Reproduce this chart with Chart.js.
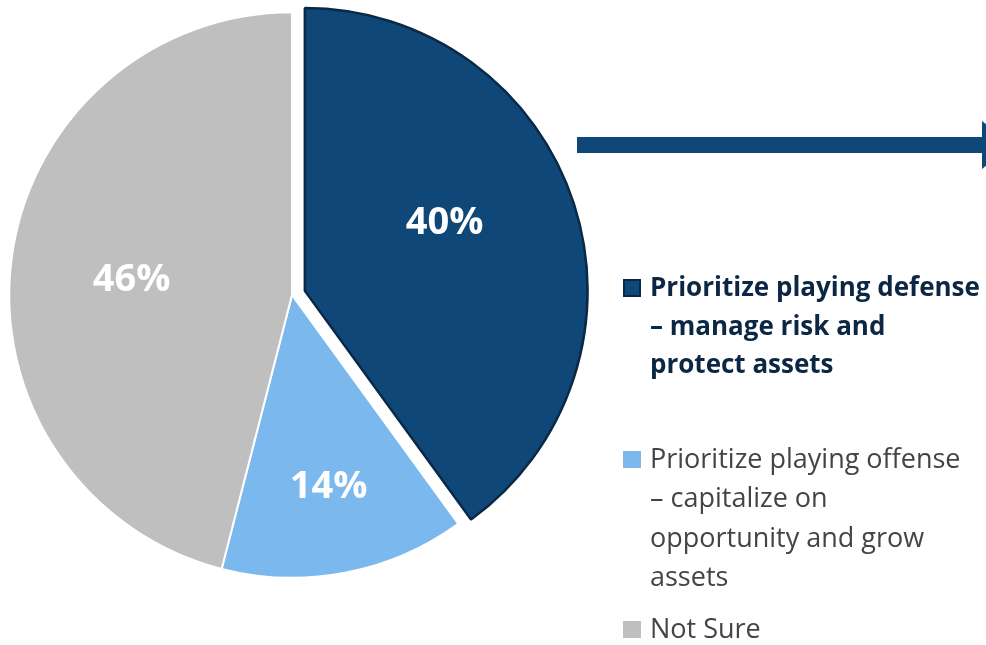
<!DOCTYPE html>
<html>
<head>
<meta charset="utf-8">
<script src="https://cdn.jsdelivr.net/npm/chart.js@4/dist/chart.umd.min.js"></script>
<style>
  html, body { margin: 0; padding: 0; background: #fff; }
  #wrap { width: 986px; height: 645px; }
</style>
</head>
<body>
<div id="wrap"><canvas id="myChart" width="986" height="645"></canvas></div>
<script>
  // survey answers, clockwise from 12 o'clock
  var labels = [
    ["Prioritize playing defense", "\u2013 manage risk and", "protect assets"],
    ["Prioritize playing offense", "\u2013 capitalize on", "opportunity and grow", "assets"],
    ["Not Sure"]
  ];
  var values = [40, 14, 46];
  var colors = ["#0f4878", "#7ab8ee", "#bfbfbf"];
  var edgeColors = ["#0a2946", "#ffffff", "#ffffff"];

  // how far each slice is pulled out of the pie, px
  var explode = [13.5, 0, 0];

  // where the % text sits inside each slice (fraction of radius, angle nudge in degrees)
  var labelSpots = [[0.55, -8], [0.69, 0], [0.57, -1.5]];

  // Chart.js' own offset option also grows the arc radius, so slide the slice
  // out by hand instead and leave its size alone
  var pullOut = {
    id: "pullOut",
    afterUpdate(chart) {
      chart.getDatasetMeta(0).data.forEach((arc, i) => {
        if (!explode[i] || arc._pulled) return;
        const baseDraw = arc.draw;
        arc.draw = function (ctx) {
          const mid = (this.startAngle + this.endAngle) / 2;
          ctx.save();
          ctx.translate(Math.cos(mid) * explode[i], Math.sin(mid) * explode[i]);
          baseDraw.call(this, ctx);
          ctx.restore();
        };
        arc._pulled = true;
      });
    }
  };

  var sliceText = {
    id: "sliceText",
    afterDatasetsDraw(chart) {
      const ctx = chart.ctx;
      const arcs = chart.getDatasetMeta(0).data;
      ctx.save();
      ctx.fillStyle = "#ffffff";
      ctx.font = "bold 38px 'Open Sans'";
      ctx.textAlign = "center";
      ctx.textBaseline = "middle";
      arcs.forEach((arc, i) => {
        const p = arc.getProps(["x", "y", "startAngle", "endAngle", "outerRadius"], true);
        const mid = (p.startAngle + p.endAngle) / 2;
        const a = mid + labelSpots[i][1] * Math.PI / 180;
        const r = p.outerRadius * labelSpots[i][0];
        const x = p.x + Math.cos(mid) * explode[i] + Math.cos(a) * r;
        const y = p.y + Math.sin(mid) * explode[i] + Math.sin(a) * r;
        ctx.fillText(values[i] + "%", x, y + 1);
      });
      ctx.restore();
    }
  };

  // the arrow pointing off to the right and the legend beside the pie
  var sideBits = {
    id: "sideBits",
    afterDraw(chart) {
      const ctx = chart.ctx;
      ctx.save();
      ctx.fillStyle = colors[0];
      ctx.fillRect(577, 137, 410, 16);
      ctx.beginPath();
      ctx.moveTo(982, 121);
      ctx.lineTo(1012, 145);
      ctx.lineTo(982, 169);
      ctx.closePath();
      ctx.fill();

      const tops = [279, 451, 621];
      const lineH = [38.5, 39.3, 39];
      ctx.textBaseline = "alphabetic";
      ctx.textAlign = "left";
      labels.forEach((lines, i) => {
        const y0 = tops[i];
        if (i === 0) {
          ctx.fillStyle = colors[0];
          ctx.fillRect(623, y0, 18, 18);
          ctx.strokeStyle = edgeColors[0];
          ctx.lineWidth = 2;
          ctx.strokeRect(624, y0 + 1, 16, 16);
          ctx.fillStyle = "#0c2744";
          ctx.font = "bold 26px 'Open Sans'";
        } else {
          ctx.fillStyle = colors[i];
          ctx.fillRect(623, y0, 18, 17);
          ctx.fillStyle = "#444444";
          ctx.font = "27px 'Open Sans'";
        }
        lines.forEach((t, j) => {
          ctx.fillText(t, 650, y0 + 17 + j * lineH[i]);
        });
      });
      ctx.restore();
    }
  };

  function drawChart() {
    new Chart("myChart", {
      type: "pie",
      data: {
        labels: labels,
        datasets: [{
          data: values,
          backgroundColor: colors,
          borderColor: edgeColors,
          borderWidth: [2.5, 2, 2]
        }]
      },
      options: {
        responsive: false,
        animation: false,
        events: [],
        layout: { padding: { left: 8, top: 11, right: 410, bottom: 66 } },
        plugins: {
          legend: { display: false },
          tooltip: { enabled: false }
        }
      },
      plugins: [pullOut, sliceText, sideBits]
    });
  }

  Promise.all([
    document.fonts.load("bold 38px 'Open Sans'"),
    document.fonts.load("bold 26px 'Open Sans'"),
    document.fonts.load("27px 'Open Sans'")
  ]).then(drawChart, drawChart);
</script>
</body>
</html>
